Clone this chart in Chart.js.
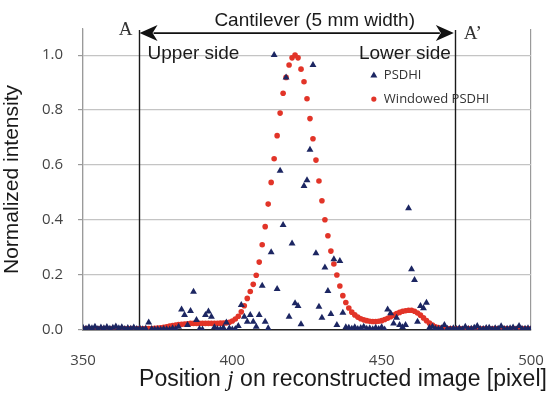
<!DOCTYPE html>
<html lang="en">
<head>
<meta charset="UTF-8">
<title>Normalized intensity along cantilever</title>
<script src="https://cdn.jsdelivr.net/npm/chart.js"></script>
<style>
  html, body { margin: 0; padding: 0; background: #fff; overflow: hidden; }
  #wrap { width: 549px; height: 401px; position: relative; }
</style>
</head>
<body>
<div id="wrap"><canvas id="chart"></canvas></div>
<script>
// Pixel positions j = 350 ... 500 (one sample per pixel)
const firstPixel = 350;
const lastPixel = 500;

// PSDHI (blue triangles), one value per pixel 350..500
const psdhi = [
  0.008, 0.005, 0.010, 0.006, 0.012, 0.004, 0.009, 0.006, 0.011, 0.005, // 350
  0.008, 0.013, 0.006, 0.010, 0.004, 0.007, 0.005, 0.009, 0.004, 0.006, // 360
  0.003, 0.005, 0.027, 0.004, 0.002, 0.003, 0.002, 0.004, 0.003, 0.002, // 370
  0.006, 0.004, 0.012, 0.075, 0.055, 0.018, 0.069, 0.139, 0.036, 0.004, // 380
  0.002, 0.055, 0.067, 0.048, 0.010, 0.004, 0.003, 0.008, 0.027, 0.006, // 390
  0.002, 0.004, 0.015, 0.091, 0.048, 0.030, 0.055, 0.030, 0.012, 0.055, // 400
  0.161, 0.030, 0.006, 0.283, 1.000, 0.149, 0.579, 0.382, 0.919, 0.048, // 410
  0.315, 0.097, 0.087, 0.021, 0.524, 0.545, 0.656, 0.964, 0.279, 0.085, // 420
  0.045, 0.227, 0.142, 0.058, 0.257, 0.018, 0.251, 0.063, 0.010, 0.008, // 430
  0.005, 0.010, 0.004, 0.007, 0.012, 0.005, 0.006, 0.003, 0.008, 0.004, // 440
  0.010, 0.002, 0.075, 0.061, 0.024, 0.045, 0.018, 0.010, 0.018, 0.443, // 450
  0.221, 0.182, 0.030, 0.087, 0.079, 0.099, 0.008, 0.012, 0.005, 0.004, // 460
  0.006, 0.018, 0.005, 0.003, 0.006, 0.004, 0.006, 0.003, 0.012, 0.004, // 470
  0.005, 0.008, 0.015, 0.004, 0.004, 0.007, 0.008, 0.003, 0.006, 0.005, // 480
  0.014, 0.004, 0.005, 0.006, 0.009, 0.003, 0.015, 0.004, 0.005, 0.006, // 490
  0.004                                                                  // 500
];

// Windowed PSDHI (red dots), one value per pixel 350..500
const windowedPsdhi = [
  0.004, 0.005, 0.004, 0.004, 0.005, 0.004, 0.004, 0.005, 0.004, 0.004, // 350
  0.005, 0.004, 0.004, 0.005, 0.004, 0.004, 0.005, 0.004, 0.004, 0.005, // 360
  0.004, 0.005, 0.005, 0.005, 0.006, 0.007, 0.008, 0.010, 0.012, 0.014, // 370
  0.016, 0.018, 0.020, 0.021, 0.022, 0.023, 0.024, 0.024, 0.024, 0.024, // 380
  0.024, 0.024, 0.024, 0.024, 0.024, 0.024, 0.025, 0.025, 0.026, 0.028, // 390
  0.033, 0.040, 0.050, 0.066, 0.088, 0.115, 0.140, 0.166, 0.199, 0.247, // 400
  0.310, 0.376, 0.458, 0.537, 0.623, 0.707, 0.789, 0.861, 0.919, 0.964, // 410
  0.990, 1.000, 0.990, 0.949, 0.903, 0.841, 0.769, 0.696, 0.618, 0.542, // 420
  0.470, 0.401, 0.343, 0.287, 0.240, 0.200, 0.160, 0.125, 0.100, 0.080, // 430
  0.065, 0.055, 0.047, 0.041, 0.037, 0.034, 0.032, 0.031, 0.031, 0.032, // 440
  0.034, 0.038, 0.043, 0.048, 0.054, 0.060, 0.064, 0.068, 0.070, 0.072, // 450
  0.072, 0.068, 0.062, 0.054, 0.044, 0.034, 0.025, 0.018, 0.012, 0.009, // 460
  0.006, 0.005, 0.004, 0.005, 0.004, 0.004, 0.005, 0.004, 0.004, 0.005, // 470
  0.004, 0.004, 0.005, 0.004, 0.004, 0.005, 0.004, 0.004, 0.005, 0.004, // 480
  0.004, 0.005, 0.004, 0.004, 0.005, 0.004, 0.004, 0.005, 0.004, 0.004, // 490
  0.004                                                                  // 500
];

const xTicks = [350, 400, 450, 500];
const yTicks = [0, 0.2, 0.4, 0.6, 0.8, 1.0];

// Cantilever edges A and A' (in pixel position units) and arrow level
const cantileverEdges = [368.6, 474.5];
const arrowLevel = 1.08;

const positions = [];
for (let j = firstPixel; j <= lastPixel; j++) positions.push(j);

const blue = 'rgb(28, 38, 98)';
const red = 'rgb(226, 52, 40)';

// Annotations: cantilever lines, arrow, labels, legend and x-axis title with italic j
const annotations = {
  id: 'annotations',
  beforeDatasetsDraw(chart) {
    const { ctx, chartArea, scales: { x } } = chart;
    ctx.save();
    ctx.strokeStyle = '#1a1a1a';
    ctx.lineWidth = 1.4;
    for (const edge of cantileverEdges) {
      const px = Math.round(x.getPixelForValue(edge)) + 0.5;
      ctx.beginPath();
      ctx.moveTo(px, chartArea.top + 1);
      ctx.lineTo(px, chartArea.bottom);
      ctx.stroke();
    }
    ctx.restore();
  },
  afterDraw(chart) {
    const { ctx, chartArea, scales: { x, y } } = chart;
    const xa = x.getPixelForValue(cantileverEdges[0]);
    const xb = x.getPixelForValue(cantileverEdges[1]);
    const ay = y.getPixelForValue(arrowLevel);
    const top = y.getPixelForValue(1.0);
    ctx.save();

    // double-headed arrow
    const head = 17, half = 8;
    ctx.strokeStyle = '#111';
    ctx.fillStyle = '#111';
    ctx.lineWidth = 1.8;
    ctx.beginPath();
    ctx.moveTo(xa + head - 2, ay);
    ctx.lineTo(xb - head + 2, ay);
    ctx.stroke();
    ctx.beginPath();
    ctx.moveTo(xa + 1, ay);
    ctx.lineTo(xa + head + 2, ay - half);
    ctx.lineTo(xa + head - 3, ay);
    ctx.lineTo(xa + head + 2, ay + half);
    ctx.closePath();
    ctx.fill();
    ctx.beginPath();
    ctx.moveTo(xb - 1, ay);
    ctx.lineTo(xb - head - 2, ay - half);
    ctx.lineTo(xb - head + 3, ay);
    ctx.lineTo(xb - head - 2, ay + half);
    ctx.closePath();
    ctx.fill();

    // A and A'
    ctx.fillStyle = '#333';
    ctx.font = '19px "Liberation Serif", serif';
    ctx.textBaseline = 'alphabetic';
    ctx.textAlign = 'right';
    ctx.fillText('A', xa - 6, ay + 2);
    ctx.textAlign = 'left';
    ctx.fillText('A\u2019', xb + 9, ay + 6);

    // Text labels
    ctx.fillStyle = '#1a1a1a';
    ctx.font = '19px "Liberation Sans", Arial, sans-serif';
    ctx.textAlign = 'center';
    ctx.fillText('Cantilever (5 mm width)', (xa + xb) / 2 + 18, ay - 7);
    ctx.textAlign = 'left';
    ctx.fillText('Upper side', xa + 9, top + 4);
    ctx.textAlign = 'right';
    ctx.fillText('Lower side', xb - 4, top + 4);

    // Legend
    const lx = xb - 81;
    const ly1 = top + 20, ly2 = top + 44;
    ctx.fillStyle = blue;
    ctx.beginPath();
    ctx.moveTo(lx, ly1 - 3.5);
    ctx.lineTo(lx + 3.5, ly1 + 2.5);
    ctx.lineTo(lx - 3.5, ly1 + 2.5);
    ctx.closePath();
    ctx.fill();
    ctx.fillStyle = red;
    ctx.beginPath();
    ctx.arc(lx, ly2, 2.6, 0, Math.PI * 2);
    ctx.fill();
    ctx.fillStyle = '#333';
    ctx.font = '13px "Open Sans", sans-serif';
    ctx.textAlign = 'left';
    ctx.textBaseline = 'middle';
    ctx.fillText(chart.data.datasets[0].label, lx + 10, ly1);
    ctx.fillText(chart.data.datasets[1].label, lx + 10, ly2);

    // x-axis title with italic j
    const parts = [
      ['Position ', '23px "Liberation Sans", Arial, sans-serif'],
      ['j', 'italic 23px "Liberation Serif", serif'],
      [' on reconstructed image [pixel]', '23px "Liberation Sans", Arial, sans-serif']
    ];
    let total = 0;
    for (const [t, f] of parts) { ctx.font = f; total += ctx.measureText(t).width; }
    let tx = (chartArea.left + chartArea.right) / 2 + 36 - total / 2;
    ctx.fillStyle = '#1a1a1a';
    ctx.textBaseline = 'alphabetic';
    for (const [t, f] of parts) {
      ctx.font = f;
      ctx.fillText(t, tx, chartArea.bottom + 56);
      tx += ctx.measureText(t).width;
    }
    ctx.restore();
  }
};

new Chart(document.getElementById('chart'), {
  type: 'scatter',
  data: {
    labels: positions,
    datasets: [
      {
        label: 'PSDHI',
        data: positions.map((p, i) => ({ x: p, y: psdhi[i] })),
        pointStyle: 'triangle',
        pointRadius: 4,
        backgroundColor: blue,
        borderColor: blue,
        borderWidth: 0
      },
      {
        label: 'Windowed PSDHI',
        data: positions.map((p, i) => ({ x: p, y: windowedPsdhi[i] })),
        pointStyle: 'circle',
        pointRadius: 2.8,
        backgroundColor: red,
        borderColor: red,
        borderWidth: 0
      }
    ]
  },
  options: {
    responsive: true,
    maintainAspectRatio: false,
    animation: false,
    layout: { padding: { top: 29, right: 18, bottom: 0, left: 0 } },
    plugins: {
      legend: { display: false },
      tooltip: { enabled: false },
      title: { display: false }
    },
    scales: {
      x: {
        type: 'linear',
        min: 350,
        max: 500,
        afterBuildTicks: (scale) => { scale.ticks = xTicks.map(v => ({ value: v })); },
        afterFit: (scale) => {
          scale.height = 71;
          scale.paddingLeft = 0;
          scale.paddingRight = 0;
        },
        grid: {
          drawTicks: false,
          color: (c) => (c.tick && (c.tick.value === 500 || c.tick.value === 350)) ? '#9a9a9a' : 'rgba(0,0,0,0)',
          lineWidth: 1.2
        },
        border: { color: '#222', width: 1.4 },
        ticks: {
          padding: 22,
          color: '#444',
          font: { family: '"Open Sans", sans-serif', size: 15 }
        },
        title: { display: false }
      },
      y: {
        min: 0,
        max: 1.095,
        afterBuildTicks: (scale) => { scale.ticks = yTicks.map(v => ({ value: v })); },
        afterFit: (scale) => { scale.width = 83; },
        grid: {
          color: (c) => (c.tick && c.tick.value === 0) ? 'rgba(0,0,0,0)' : '#c4c4c4',
          tickColor: '#9a9a9a',
          tickLength: 5,
          lineWidth: 1.2
        },
        border: { color: '#9a9a9a', width: 1.2 },
        ticks: {
          padding: 15,
          color: '#444',
          font: { family: '"Open Sans", sans-serif', size: 15 },
          callback: (v) => v.toFixed(1)
        },
        title: {
          display: true,
          text: 'Normalized intensity',
          color: '#1a1a1a',
          font: { family: '"Liberation Sans", Arial, sans-serif', size: 21 },
          padding: { top: 0, bottom: 4 }
        }
      }
    }
  },
  plugins: [annotations]
});
</script>
</body>
</html>
